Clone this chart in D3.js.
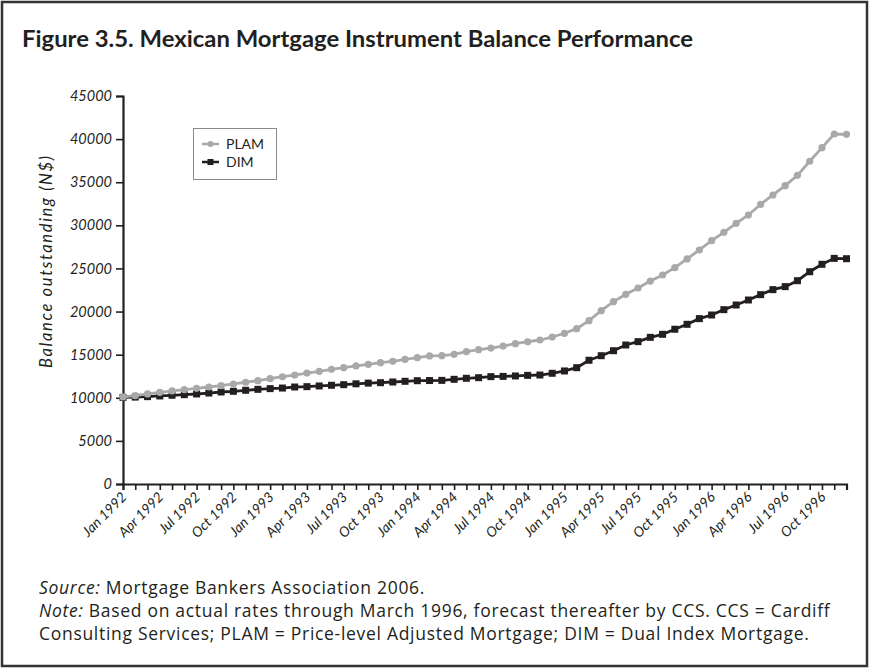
<!DOCTYPE html>
<html><head><meta charset="utf-8">
<script src="https://cdn.jsdelivr.net/npm/d3@7"></script>
<style>
body{margin:0;background:#fff}
text{font-family:Lato,"Open Sans",sans-serif;fill:#231f20}
</style>
</head><body><svg id="c" width="869" height="668"></svg>
<script>
const months = [
"Jan 1992","Feb 1992","Mar 1992","Apr 1992","May 1992","Jun 1992","Jul 1992","Aug 1992","Sep 1992","Oct 1992","Nov 1992","Dec 1992",
"Jan 1993","Feb 1993","Mar 1993","Apr 1993","May 1993","Jun 1993","Jul 1993","Aug 1993","Sep 1993","Oct 1993","Nov 1993","Dec 1993",
"Jan 1994","Feb 1994","Mar 1994","Apr 1994","May 1994","Jun 1994","Jul 1994","Aug 1994","Sep 1994","Oct 1994","Nov 1994","Dec 1994",
"Jan 1995","Feb 1995","Mar 1995","Apr 1995","May 1995","Jun 1995","Jul 1995","Aug 1995","Sep 1995","Oct 1995","Nov 1995","Dec 1995",
"Jan 1996","Feb 1996","Mar 1996","Apr 1996","May 1996","Jun 1996","Jul 1996","Aug 1996","Sep 1996","Oct 1996","Nov 1996","Dec 1996"];
const plam = [10100,10240,10450,10630,10790,10940,11100,11250,11410,11600,11800,11980,
12210,12440,12640,12870,13070,13300,13490,13690,13880,14070,14230,14460,
14650,14850,14880,15040,15350,15580,15770,16000,16270,16500,16700,17050,
17480,18020,18940,20100,21150,22000,22730,23540,24240,25090,26100,27140,
28220,29190,30230,31200,32440,33520,34600,35800,37430,39010,40590,40560];
const dim = [10050,10080,10130,10210,10290,10360,10440,10550,10670,10750,10870,10980,
11060,11130,11250,11290,11370,11450,11520,11620,11700,11750,11830,11910,
11980,12000,12020,12140,12260,12330,12450,12480,12530,12600,12640,12840,
13110,13490,14350,14880,15460,16120,16510,17010,17360,17950,18520,19180,
19600,20220,20760,21340,21960,22540,22890,23580,24620,25480,26170,26130];
const yTicks = [0,5000,10000,15000,20000,25000,30000,35000,40000,45000];
const seriesNames = ["PLAM","DIM"];
const title = "Figure 3.5. Mexican Mortgage Instrument Balance Performance";
const yLabel = "Balance outstanding (N$)";

const svg = d3.select("#c");
svg.append("rect").attr("x",2).attr("y",2).attr("width",865).attr("height",664)
  .attr("fill","none").attr("stroke","#333").attr("stroke-width",2.5);

svg.append("text").attr("x",22).attr("y",47).attr("font-size",22).attr("font-weight","bold")
  .attr("textLength",671).attr("lengthAdjust","spacingAndGlyphs").text(title);

const x = d3.scalePoint().domain(months).range([123,846.5]);
const y = d3.scaleLinear().domain([0,45000]).range([484,96]);

const ya = svg.append("g").attr("transform","translate(123,0)")
  .call(d3.axisLeft(y).tickValues(yTicks).tickSize(7).tickPadding(4).tickFormat(d3.format("d")));
ya.select(".domain").attr("stroke","#231f20").attr("stroke-width",2.2);
ya.selectAll(".tick line").attr("stroke","#231f20").attr("stroke-width",1.6);
ya.selectAll(".tick text").attr("font-size",14.5).attr("font-style","italic").attr("fill","#231f20")
  .attr("font-family","Lato,sans-serif");

const xa = svg.append("g").attr("transform","translate(0,484)")
  .call(d3.axisBottom(x).tickSize(6).tickFormat((d,i)=> i%3===0 ? d : ""));
xa.select(".domain").attr("stroke","#231f20").attr("stroke-width",2.2);
xa.selectAll(".tick line").attr("stroke","#231f20").attr("stroke-width",1.6);
xa.selectAll(".tick text").attr("font-size",14).attr("font-style","italic").attr("fill","#231f20")
  .attr("font-family","Lato,sans-serif")
  .attr("text-anchor","end").attr("x",0).attr("y",0).attr("dy",0)
  .attr("transform","translate(4,14) rotate(-45)");

svg.append("text").attr("transform","translate(52,262) rotate(-90)").attr("text-anchor","middle")
  .attr("font-size",16.5).attr("font-style","italic")
  .attr("textLength",212).attr("lengthAdjust","spacing").text(yLabel);

const line = d3.line().x((d,i)=>x(months[i])).y(d=>y(d));
svg.append("path").datum(dim).attr("d",line).attr("fill","none").attr("stroke","#231f20").attr("stroke-width",2.8);
svg.append("g").selectAll("rect").data(dim).join("rect")
  .attr("x",(d,i)=>x(months[i])-3.5).attr("y",d=>y(d)-3.5).attr("width",7).attr("height",7).attr("fill","#231f20");
svg.append("path").datum(plam).attr("d",line).attr("fill","none").attr("stroke","#a9a9a9").attr("stroke-width",2.8);
svg.append("g").selectAll("circle").data(plam).join("circle")
  .attr("cx",(d,i)=>x(months[i])).attr("cy",d=>y(d)).attr("r",3.6).attr("fill","#a9a9a9");

const lg = svg.append("g");
lg.append("rect").attr("x",193.5).attr("y",128.5).attr("width",83).attr("height",51)
  .attr("fill","#fff").attr("stroke","#8a8a8a").attr("stroke-width",1);
const items = [{n:seriesNames[0],c:"#a9a9a9",t:"c"},{n:seriesNames[1],c:"#231f20",t:"s"}];
items.forEach((it,k)=>{
  const yy = 144 + k*18;
  lg.append("line").attr("x1",202).attr("x2",219).attr("y1",yy).attr("y2",yy).attr("stroke",it.c).attr("stroke-width",2.5);
  if(it.t==="c") lg.append("circle").attr("cx",210.5).attr("cy",yy).attr("r",3).attr("fill",it.c);
  else lg.append("rect").attr("x",207.5).attr("y",yy-3).attr("width",6).attr("height",6).attr("fill",it.c);
  lg.append("text").attr("x",226).attr("y",yy+5).attr("font-size",14).text(it.n);
});

const notes = svg.append("g");
const n1 = notes.append("text").attr("x",39).attr("y",594);
n1.append("tspan").attr("font-style","italic").text("Source:");
n1.append("tspan").text(" Mortgage Bankers Association 2006.");
const n2 = notes.append("text").attr("x",39).attr("y",617);
n2.append("tspan").attr("font-style","italic").text("Note:");
n2.append("tspan").text(" Based on actual rates through March 1996, forecast thereafter by CCS. CCS = Cardiff");
const n3 = notes.append("text").attr("x",39).attr("y",640)
  .text("Consulting Services; PLAM = Price-level Adjusted Mortgage; DIM = Dual Index Mortgage.");
notes.selectAll("text").attr("font-size",17.5).style("font-family","'Open Sans',sans-serif");
const w2 = n2.node().getComputedTextLength();
if (w2 < 788) notes.selectAll("text").attr("letter-spacing", (790 - w2) / 87);
</script></body></html>
